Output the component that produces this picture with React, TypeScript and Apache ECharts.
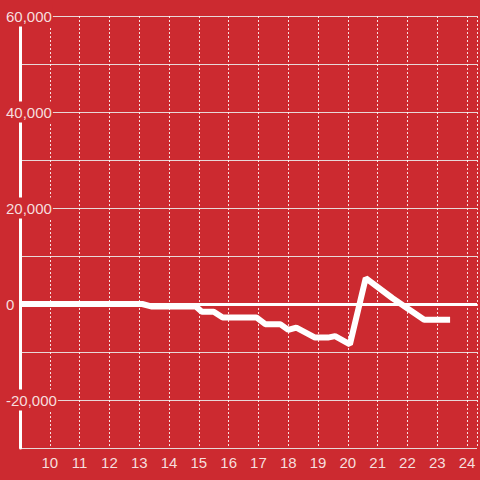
import React, { useEffect, useRef } from "react";
import * as echarts from "echarts";

const hours = [9, 13.1, 13.4, 14.9, 15.1, 15.5, 15.8, 16.93, 17.23, 17.73, 18.0, 18.27, 18.9, 19.33, 19.57, 20.07, 20.6, 21.5, 22.56, 23.43];
const values = [0, 0, -500, -500, -1600, -1600, -2800, -2800, -4200, -4200, -5400, -4900, -7000, -7000, -6700, -8400, 5400, 1200, -3300, -3300];
const yLabelValues = [60000, 40000, 20000, 0, -20000];

const BG = "#cc2a30";
const TEXT = "#f6dede";

export default function App() {
  const ref = useRef<HTMLDivElement>(null);
  useEffect(() => {
    if (!ref.current) return;
    const chart = echarts.init(ref.current, null, { renderer: "svg" });
    chart.setOption({
      animation: false,
      backgroundColor: BG,
      grid: { left: 20, right: 0, top: 16, bottom: 32, containLabel: false },
      xAxis: {
        type: "value",
        min: 9,
        max: 24.333,
        interval: 1,
        axisLine: { show: false },
        axisTick: { show: false },
        splitLine: { show: true, lineStyle: { color: "rgba(255,255,255,0.85)", width: 1, type: [2, 2] } },
        axisLabel: {
          color: TEXT,
          fontSize: 15,
          fontFamily: "Liberation Sans, Arial, sans-serif",
          margin: 7,
          formatter: (v: number) => (Number.isInteger(v) && v > 9 ? String(v) : ""),
        },
      },
      yAxis: {
        type: "value",
        min: -30000,
        max: 60000,
        interval: 10000,
        axisLine: { show: true, lineStyle: { color: "#ffffff", width: 3 } },
        axisTick: { show: false },
        splitLine: { show: true, lineStyle: { color: "rgba(235,235,235,0.9)", width: 1 } },
        axisLabel: {
          align: "left",
          margin: 14,
          formatter: (v: number) =>
            yLabelValues.includes(v) ? `{a|${v.toLocaleString("en-US")}}` : "",
          rich: {
            a: {
              color: TEXT,
              fontSize: 15,
              fontFamily: "Liberation Sans, Arial, sans-serif",
              backgroundColor: BG,
              padding: [3, 1, 3, 0],
            },
          },
        },
      },
      series: [
        {
          type: "line",
          data: hours.map((h, i) => [h, values[i]]),
          showSymbol: false,
          lineStyle: { color: "#ffffff", width: 6 },
          z: 3,
          markLine: {
            silent: true,
            symbol: "none",
            label: { show: false },
            lineStyle: { color: "#ffffff", width: 3, type: "solid" },
            data: [{ yAxis: 0 }],
          },
        },
      ],
    });
    return () => chart.dispose();
  }, []);
  return <div ref={ref} style={{ position: "fixed", left: 0, top: 0, width: 480, height: 480 }} />;
}
